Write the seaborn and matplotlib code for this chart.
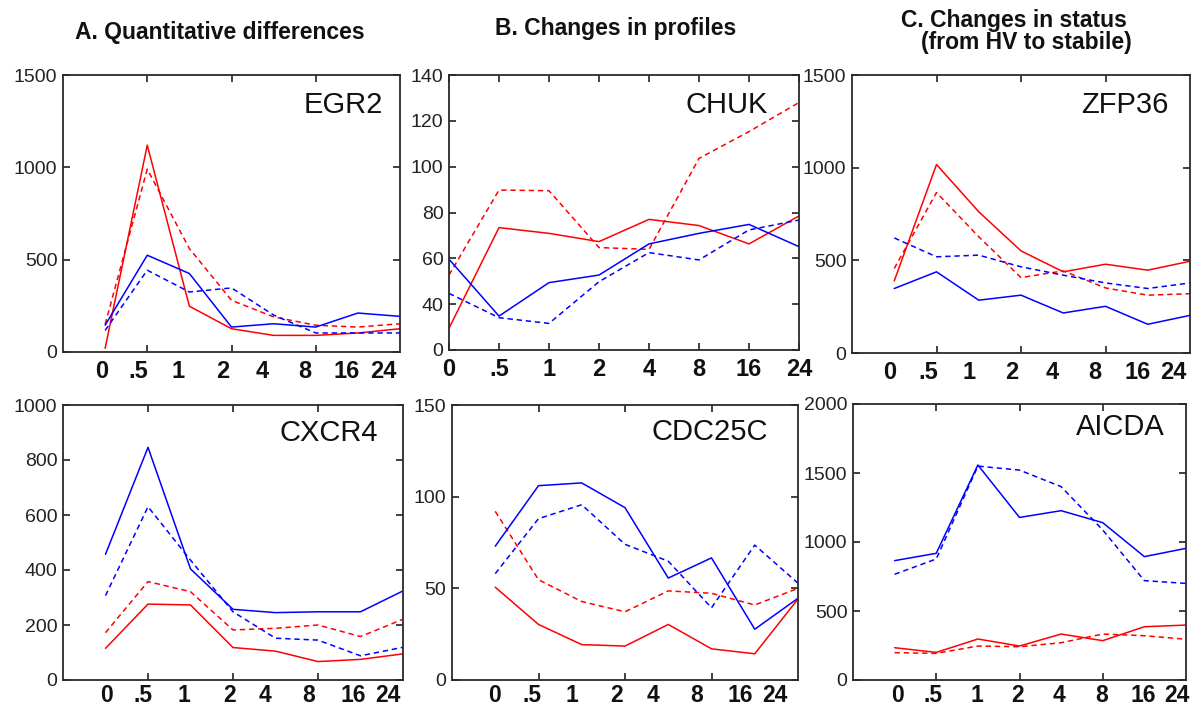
import numpy as np
import pandas as pd
import matplotlib
matplotlib.use("Agg")
import matplotlib.pyplot as plt
import seaborn as sns

sns.set_theme(style="white")
plt.rcParams['font.family'] = ['Liberation Sans', 'DejaVu Sans']

# ---------------- data ----------------
time_labels = ["0", ".5", "1", "2", "4", "8", "16", "24"]
genes = ["EGR2", "CHUK", "ZFP36", "CXCR4", "CDC25C", "AICDA"]

egr2_red_solid = [20, 1120, 248, 126, 90, 90, 103, 126]
egr2_red_dash = [150, 990, 560, 280, 190, 145, 135, 153]
egr2_blue_solid = [145, 524, 425, 135, 153, 135, 211, 193]
egr2_blue_dash = [117, 443, 325, 347, 200, 103, 103, 103]

chuk_red_solid = [29.5, 73.4, 70.9, 67.3, 77.0, 74.3, 66.3, 78.5]
chuk_red_dash = [52.7, 89.8, 89.5, 64.7, 63.9, 103.6, 115.3, 128.0]
chuk_blue_solid = [59.6, 34.8, 49.4, 52.7, 66.3, 70.9, 74.8, 65.1]
chuk_blue_dash = [44.7, 34.1, 31.6, 49.8, 62.5, 59.3, 72.4, 76.7]

zfp36_red_solid = [389, 1017, 762, 551, 438, 479, 447, 495]
zfp36_red_dash = [456, 866, 627, 407, 443, 351, 312, 320]
zfp36_blue_solid = [348, 438, 285, 312, 216, 252, 155, 203]
zfp36_blue_dash = [621, 519, 528, 465, 420, 378, 348, 378]

cxcr4_red_solid = [115, 276, 273, 118, 105, 67, 75, 95]
cxcr4_red_dash = [172, 358, 321, 182, 188, 200, 158, 221]
cxcr4_blue_solid = [457, 846, 404, 257, 245, 248, 248, 324]
cxcr4_blue_dash = [307, 630, 436, 248, 152, 145, 88, 119]

cdc25c_red_solid = [50.6, 30.3, 19.3, 18.5, 30.3, 17.0, 14.3, 44.2]
cdc25c_red_dash = [92.0, 54.7, 42.8, 37.2, 48.6, 47.3, 40.9, 50.0]
cdc25c_blue_solid = [73.0, 106.0, 107.5, 94.0, 55.6, 66.6, 27.7, 44.6]
cdc25c_blue_dash = [58.0, 88.0, 95.6, 74.0, 64.8, 39.4, 73.6, 52.8]

aicda_red_solid = [234, 200, 297, 246, 333, 285, 386, 398]
aicda_red_dash = [198, 193, 246, 241, 270, 333, 321, 295]
aicda_blue_solid = [865, 918, 1558, 1178, 1227, 1140, 894, 954]
aicda_blue_dash = [766, 877, 1550, 1521, 1401, 1087, 720, 700]

panel_series = {
    "EGR2": [egr2_red_solid, egr2_red_dash, egr2_blue_solid, egr2_blue_dash],
    "CHUK": [chuk_red_solid, chuk_red_dash, chuk_blue_solid, chuk_blue_dash],
    "ZFP36": [zfp36_red_solid, zfp36_red_dash, zfp36_blue_solid, zfp36_blue_dash],
    "CXCR4": [cxcr4_red_solid, cxcr4_red_dash, cxcr4_blue_solid, cxcr4_blue_dash],
    "CDC25C": [cdc25c_red_solid, cdc25c_red_dash, cdc25c_blue_solid, cdc25c_blue_dash],
    "AICDA": [aicda_red_solid, aicda_red_dash, aicda_blue_solid, aicda_blue_dash],
}
series_names = ["red_solid", "red_dash", "blue_solid", "blue_dash"]

y_ticks = {
    "EGR2": ([0, 500, 1000, 1500], ["0", "500", "1000", "1500"]),
    "CHUK": ([20, 40, 60, 80, 100, 120, 140], ["0", "40", "60", "80", "100", "120", "140"]),
    "ZFP36": ([0, 500, 1000, 1500], ["0", "500", "1000", "1500"]),
    "CXCR4": ([0, 200, 400, 600, 800, 1000], ["0", "200", "400", "600", "800", "1000"]),
    "CDC25C": ([0, 50, 100, 150], ["0", "50", "100", "150"]),
    "AICDA": ([0, 500, 1000, 1500, 2000], ["0", "500", "1000", "1500", "2000"]),
}
y_limits = {"EGR2": (0, 1500), "CHUK": (20, 140), "ZFP36": (0, 1500),
            "CXCR4": (0, 1000), "CDC25C": (0, 150), "AICDA": (0, 2000)}

panel_titles = ["A. Quantitative differences", "B. Changes in profiles",
                "C. Changes in status", "(from HV to stabile)"]

# ---------------- layout (pixels) ----------------
W, H = 1199, 711
rects_px = {  # left, top, right, bottom
    "EGR2": (63, 75, 400, 352),
    "CHUK": (449, 75, 799, 350),
    "ZFP36": (852, 75, 1190, 353),
    "CXCR4": (63, 405, 403, 680),
    "CDC25C": (452, 405, 798, 680),
    "AICDA": (853, 404, 1186, 680),
}
# x positions of the time labels (composite figure labels sit off-tick)
label_x = {
    "EGR2": [0.93, 1.78, 2.73, 3.8, 4.72, 5.74, 6.74, 7.6],
    "ZFP36": [0.90, 1.80, 2.77, 3.79, 4.73, 5.75, 6.77, 7.6],
    "CXCR4": [1.03, 1.89, 2.85, 3.93, 4.75, 5.77, 6.83, 7.65],
    "CDC25C": [0.99, 1.84, 2.77, 3.81, 4.65, 5.66, 6.66, 7.47],
    "AICDA": [1.08, 1.92, 2.98, 3.96, 4.95, 5.98, 6.97, 7.78],
}
name_pos_px = {  # right edge x, center y of gene name
    "EGR2": (383, 105), "CHUK": (768, 105), "ZFP36": (1168, 105),
    "CXCR4": (378, 433), "CDC25C": (768, 432), "AICDA": (1165, 427),
}
bottom_row = {"CXCR4", "CDC25C", "AICDA"}

fig = plt.figure(figsize=(W / 100, H / 100), dpi=100)
fig.patch.set_facecolor("white")

palette = {"red_solid": "#ff0000", "red_dash": "#ff0000",
           "blue_solid": "#0000ff", "blue_dash": "#0000ff"}
dashes = {"red_solid": "", "red_dash": (3.5, 2.5),
          "blue_solid": "", "blue_dash": (3.5, 2.5)}

spine_col = "#2a2a2a"
for g in genes:
    l, t, r, b = rects_px[g]
    ax = fig.add_axes([l / W, 1 - b / H, (r - l) / W, (b - t) / H])
    rows = []
    for name, vals in zip(series_names, panel_series[g]):
        for i, v in enumerate(vals):
            rows.append({"idx": i + 1, "value": v, "series": name})
    df = pd.DataFrame(rows)
    sns.lineplot(data=df, x="idx", y="value", hue="series", style="series",
                 palette=palette, dashes=dashes, linewidth=1.1, ax=ax,
                 legend=False, estimator=None, sort=False)
    ax.set_xlabel("")
    ax.set_ylabel("")
    ax.set_ylim(*y_limits[g])
    yt, ytl = y_ticks[g]
    ax.set_yticks(yt)
    ax.set_yticklabels(ytl, fontsize=14, color="#222222")
    xfs = 16.5 if g in bottom_row else 17
    xpad = 3 if g in bottom_row else 6
    if g == "CHUK":
        ax.set_xlim(1, 8)
        ax.set_xticks(range(1, 9))
        ax.set_xticklabels(time_labels, fontsize=xfs, fontweight="bold", color="#111111")
        ax.tick_params(axis="x", which="major", direction="in", length=5,
                       top=True, bottom=True, pad=xpad, color=spine_col)
    else:
        ax.set_xlim(0, 8)
        ax.set_xticks([2, 4, 6])
        ax.set_xticklabels([])
        ax.set_xticks(label_x[g], minor=True)
        ax.set_xticklabels(time_labels, minor=True, fontsize=xfs,
                           fontweight="bold", color="#111111")
        ax.tick_params(axis="x", which="major", direction="in", length=5,
                       top=True, bottom=True, color=spine_col)
        ax.tick_params(axis="x", which="minor", length=0, pad=xpad, bottom=True)
    ax.tick_params(axis="y", direction="in", length=5, left=True, right=True,
                   pad=4, color=spine_col)
    for s in ax.spines.values():
        s.set_color(spine_col)
        s.set_linewidth(1.3)
        s.set_visible(True)
    ax.set_facecolor("white")
    nx, ny = name_pos_px[g]
    ax.text((nx - l) / (r - l), 1 - (ny - t) / (b - t), g, transform=ax.transAxes,
            ha="right", va="center", fontsize=21, color="#111111")

title_pos_px = [(220, 33), (616, 28), (1014, 20), (1026, 42)]
for txt, (x, y) in zip(panel_titles, title_pos_px):
    fig.text(x / W, 1 - y / H, txt, ha="center", va="center", fontsize=16.5,
             fontweight="bold", color="#111111")

fig.savefig("out.png", dpi=100, facecolor="white")
